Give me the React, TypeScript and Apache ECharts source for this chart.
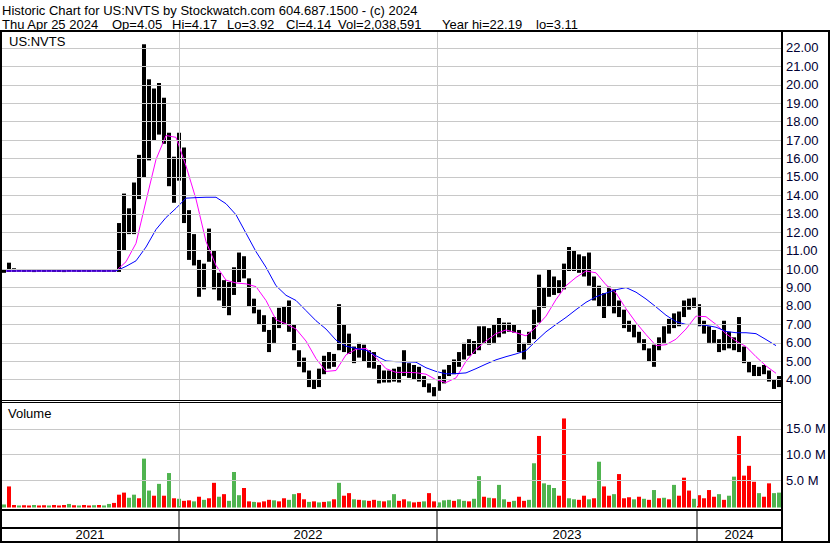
import React, { useEffect, useRef } from "react";
import * as echarts from "echarts";

// ---- data (weekly buckets, ~5 trading days each) ----
const weekHigh = [
  10.0, 10.35, 10.05, 9.98, 9.96, 9.97, 9.95, 9.97, 9.96, 9.98,
  9.96, 9.97, 9.95, 10.0, 9.97, 9.96, 9.97, 9.96, 9.98, 9.97,
  9.96, 9.98, 9.97, 12.5, 14.1, 13.3, 14.7, 16.2, 22.2, 20.3,
  19.8, 20.1, 19.3, 17.4, 16.1, 17.4, 16.6, 13.2, 11.9, 10.5,
  10.3, 12.2, 11.0, 9.8, 9.4, 9.3, 10.1, 10.9, 10.7, 9.5,
  8.4, 7.8, 7.5, 6.7, 7.4, 7.9, 8.0, 8.3, 7.0, 5.6,
  5.2, 4.5, 4.0, 4.6, 5.3, 5.5, 5.4, 8.1, 7.0, 6.5,
  5.8, 6.0, 5.9, 5.6, 5.5, 4.8, 4.5, 4.5, 4.6, 4.7,
  5.6, 4.9, 4.8, 4.7, 4.2, 3.8, 3.6, 4.2, 4.55, 4.8,
  5.1, 5.5, 6.0, 6.2, 6.1, 6.9, 6.9, 6.8, 7.0, 7.35,
  7.1, 7.1, 7.0, 6.7, 6.0, 6.6, 7.8, 9.7, 9.0, 10.0,
  9.6, 9.4, 10.3, 11.2, 11.0, 10.8, 10.7, 10.9, 9.6, 9.1,
  8.7, 9.05, 8.9, 8.3, 7.8, 7.2, 7.0, 6.6, 6.2, 5.7,
  5.9, 6.3, 6.9, 7.3, 7.6, 7.7, 8.3, 8.4, 8.45, 8.1,
  7.2, 6.9, 6.7, 6.2, 7.2, 6.6, 6.3, 7.4, 5.8, 5.0,
  4.8, 4.7, 4.8, 4.5, 4.0, 4.2,
];
const weekLow = [
  9.8, 9.85, 9.85, 9.86, 9.85, 9.86, 9.84, 9.86, 9.85, 9.86,
  9.85, 9.85, 9.84, 9.86, 9.86, 9.85, 9.86, 9.85, 9.86, 9.86,
  9.85, 9.86, 9.85, 9.85, 11.0, 11.9, 11.9, 13.8, 15.0, 15.9,
  17.0, 17.3, 16.8, 14.5, 13.6, 14.8, 12.5, 10.5, 10.2, 8.5,
  8.9, 10.4, 8.9, 8.3, 7.9, 7.5, 8.6, 9.3, 9.5, 8.0,
  7.6, 7.0, 6.6, 5.5, 6.0, 6.8, 7.0, 6.6, 5.6, 4.7,
  4.4, 3.6, 3.5, 3.6, 4.3, 4.6, 4.7, 5.6, 5.5, 5.4,
  4.9, 5.2, 5.0, 4.65, 4.6, 3.8, 3.85, 3.85, 3.9, 3.85,
  4.2, 4.1, 4.0, 3.9, 3.6, 3.3, 3.1, 3.4, 3.8, 4.2,
  4.3, 4.7, 5.1, 5.3, 5.4, 5.6, 6.0, 5.9, 6.0, 6.3,
  6.5, 6.6, 6.55, 5.5, 5.1, 5.9, 6.2, 7.1, 7.9, 8.5,
  8.6, 8.7, 8.9, 9.9, 9.9, 9.8, 9.6, 9.1, 8.3, 8.0,
  7.35, 8.0, 7.6, 7.4, 6.8, 6.6, 6.3, 6.0, 5.6, 5.0,
  4.7, 5.6, 6.0, 6.5, 6.8, 6.9, 7.4, 7.8, 7.9, 6.9,
  6.5, 6.0, 6.0, 5.5, 5.6, 5.7, 5.6, 5.5, 4.9, 4.4,
  4.2, 4.2, 4.3, 3.9, 3.5, 3.6,
];
// volume in millions, one bar per week bucket
const volumeM = [
  0.3, 3.8, 0.2, 0.1, 0.15, 0.1, 0.2, 0.1, 0.15, 0.1,
  0.2, 0.1, 0.2, 0.4, 0.15, 0.1, 0.2, 0.1, 0.15, 0.2,
  0.1, 0.4, 0.6, 2.2, 2.6, 1.6, 2.2, 1.5, 9.2, 3.0,
  2.0, 4.3, 2.0, 6.4, 1.5, 1.4, 1.0, 1.1, 0.9, 1.8,
  1.2, 1.5, 4.5, 1.8, 2.3, 1.0, 6.6, 2.1, 3.5, 0.9,
  0.8, 0.7, 0.9, 1.2, 1.1, 0.9, 1.5, 1.2, 2.3, 2.5,
  1.3, 0.8, 0.9, 0.7, 0.8, 0.9, 1.3, 4.5, 2.0, 2.5,
  1.3, 1.2, 1.1, 1.0, 1.2, 1.0, 0.9, 1.1, 2.3, 1.0,
  1.3, 0.9, 0.7, 0.8, 0.9, 2.5, 0.9, 0.7, 1.1, 1.2,
  1.0, 1.3, 1.0, 0.9, 1.4, 5.8, 1.8, 1.6, 1.5, 4.1,
  1.3, 0.8, 1.0, 1.8, 1.0, 1.2, 8.3, 13.6, 4.4, 4.1,
  3.5, 2.0, 17.0, 1.5, 1.3, 1.2, 2.0, 1.3, 1.5, 8.6,
  3.8, 2.0, 2.3, 6.2, 1.5, 1.7, 1.3, 1.8, 1.4, 1.2,
  3.1, 1.5, 1.6, 1.3, 4.1, 2.0, 5.5, 3.0, 1.4, 2.1,
  1.5, 3.1, 1.8, 2.3, 1.2, 2.0, 5.7, 13.6, 5.9, 7.8,
  4.7, 2.5, 1.8, 4.4, 2.5, 2.6,
];
// u = up day (green), d = down day (red)
const volumeDirection = (
  "uddudduddu" + "dddududdud" + "uuddduuduu" + "dudududdud" + "udduduuudd" +
  "udddudduud" + "dududududd" + "ududduduud" + "duddudduuu" + "duuduududu" +
  "ududduuduu" + "udduuddudu" + "ddudddudud" + "udududddud" + "ddduduuddd" +
  "dudduu"
).split("");
// moving averages, sampled every 2 week buckets
const maShort = [
  9.9, 9.9, 9.9, 9.9, 9.9, 9.9, 9.9, 9.9, 9.9, 9.9, 9.9, 9.9,
  10.4, 11.4, 13.7, 15.95, 17.25, 17.15, 15.6, 13.8, 11.5, 10.2,
  9.4, 9.25, 9.2, 9.05, 8.3, 7.25, 7.03, 6.75, 6.1, 5.15,
  4.45, 4.5, 5.35, 5.65, 5.7, 5.2, 4.6, 4.4, 4.4, 4.38,
  4.3, 4.0, 3.85, 4.1, 5.0, 5.65, 6.1, 6.5, 6.7, 6.55,
  6.38, 6.85, 7.45, 8.35, 9.1, 9.55, 9.9, 9.8, 9.15, 8.7,
  7.85, 7.1, 6.45, 5.85, 5.9, 6.2, 6.75, 7.45, 7.42, 7.0,
  6.5, 6.1, 5.8, 5.25, 4.75, 4.35,
];
const maLong = [
  9.9, 9.9, 9.9, 9.9, 9.9, 9.9, 9.9, 9.9, 9.9, 9.9, 9.9, 9.9,
  10.15, 10.45, 11.2, 12.15, 12.8, 13.3, 13.85, 13.88, 13.9, 13.9,
  13.55, 12.95, 11.95, 10.95, 10.1, 9.1, 8.58, 8.3, 7.75, 7.2,
  6.75, 6.15, 5.82, 5.7, 5.6, 5.3, 5.02, 4.98, 4.97, 4.95,
  4.65, 4.45, 4.32, 4.33, 4.37, 4.6, 4.85, 5.08, 5.25, 5.4,
  5.58, 6.1, 6.6, 7.0, 7.38, 7.8, 8.2, 8.5, 8.7, 8.88,
  9.0, 8.75, 8.38, 7.95, 7.5, 7.15, 7.0, 7.0, 6.95, 6.85,
  6.62, 6.55, 6.55, 6.5, 6.18, 5.85,
];
const priceTicks = [4, 5, 6, 7, 8, 9, 10, 11, 12, 13, 14, 15, 16, 17, 18, 19, 20, 21, 22];
const volumeTicks = [5, 10, 15];
const yearLabels = ["2021", "2022", "2023", "2024"];
const yearStarts = [0, 35.6, 87.2, 139.2]; // in week-bucket units
const yearEnds = [35.6, 87.2, 139.2, 156];
const headerTitle = "Historic Chart for US:NVTS by Stockwatch.com 604.687.1500 - (c) 2024";
const quoteParts = ["Thu Apr 25 2024", "Op=4.05", "Hi=4.17", "Lo=3.92", "Cl=4.14", "Vol=2,038,591", "Year hi=22.19", "lo=3.11"];
const symbolName = "US:NVTS";

const FONT_FAMILY = '"Liberation Sans", Arial, sans-serif';
const FONT = '13px "Liberation Sans", Arial, sans-serif';
const GRID_GRAY = "#c8c8c8";
const LABEL_COLOR = "#000033";
const quoteX = [2, 112, 172, 227, 286, 338, 442, 536];

export default function App() {
  const ref = useRef<HTMLDivElement>(null);
  useEffect(() => {
    if (!ref.current) return;
    const chart = echarts.init(ref.current, undefined, { renderer: "svg" });
    const nWeeks = weekHigh.length;
    const yearBoundaries = yearStarts.slice(1);

    const rect = (x: number, y: number, w: number, h: number) => ({
      type: "rect",
      silent: true,
      z: 100,
      shape: { x, y, width: w, height: h },
      style: { fill: "#000" },
    });
    const txt = (text: string, x: number, y: number) => ({
      type: "text",
      silent: true,
      z: 100,
      x,
      y,
      style: { text, font: FONT, fill: "#000", verticalAlign: "middle", textVerticalAlign: "middle" },
    });

    const option: any = {
      animation: false,
      backgroundColor: "#ffffff",
      grid: [
        { left: 1, top: 31, width: 780, height: 369 },
        { left: 1, top: 403, width: 780, height: 103 },
        { left: 1, top: 510, width: 780, height: 31 },
      ],
      xAxis: [0, 1, 2].map((g) => ({ type: "value", gridIndex: g, min: 0, max: nWeeks, show: false })),
      yAxis: [
        { type: "value", gridIndex: 0, min: 2.9, max: 22.92, show: false },
        {
          type: "value",
          gridIndex: 1,
          min: 0,
          max: 20,
          interval: 5,
          position: "right",
          axisLine: { show: false },
          axisTick: { show: false },
          splitLine: { show: false },
          axisLabel: {
            show: true,
            margin: 5,
            color: LABEL_COLOR,
            fontSize: 13,
            fontFamily: FONT_FAMILY,
            formatter: (v: number) => (volumeTicks.indexOf(v) >= 0 ? v.toFixed(1) + " M" : ""),
          },
        },
        { type: "value", gridIndex: 2, min: 0, max: 1, show: false },
      ],
      series: [
        {
          type: "line",
          xAxisIndex: 0,
          yAxisIndex: 0,
          data: [],
          z: 1,
          silent: true,
          markLine: {
            silent: true,
            symbol: ["none", "none"],
            animation: false,
            lineStyle: { color: GRID_GRAY, width: 1, type: "solid" },
            label: { show: false },
            emphasis: { disabled: true },
            data: [
              ...priceTicks.map((v) => ({
                yAxis: v,
                label: {
                  show: true,
                  position: "end",
                  distance: 5,
                  formatter: v.toFixed(2),
                  color: LABEL_COLOR,
                  fontSize: 13,
                  fontFamily: FONT_FAMILY,
                },
              })),
              ...yearBoundaries.map((x) => ({ xAxis: x })),
            ],
          },
        },
        {
          type: "custom",
          xAxisIndex: 0,
          yAxisIndex: 0,
          z: 2,
          silent: true,
          clip: true,
          data: weekHigh.map((h, i) => [i + 0.5, weekLow[i], h]),
          renderItem: (_p: any, api: any) => {
            const x = api.value(0);
            const lo = api.coord([x, api.value(1)]);
            const hi = api.coord([x, api.value(2)]);
            return {
              type: "rect",
              shape: { x: Math.round(lo[0] - 2), y: hi[1], width: 4, height: Math.max(1.5, lo[1] - hi[1]) },
              style: { fill: "#000" },
            };
          },
        },
        {
          type: "line",
          xAxisIndex: 0,
          yAxisIndex: 0,
          z: 3,
          silent: true,
          showSymbol: false,
          symbol: "none",
          data: maShort.map((v, k) => [2 * k + 1, v]),
          lineStyle: { color: "#ff00ff", width: 1 },
        },
        {
          type: "line",
          xAxisIndex: 0,
          yAxisIndex: 0,
          z: 3,
          silent: true,
          showSymbol: false,
          symbol: "none",
          data: maLong.map((v, k) => [2 * k + 1, v]),
          lineStyle: { color: "#0000ff", width: 1 },
        },
        {
          type: "line",
          xAxisIndex: 1,
          yAxisIndex: 1,
          data: [],
          z: 1,
          silent: true,
          markLine: {
            silent: true,
            symbol: ["none", "none"],
            animation: false,
            lineStyle: { color: GRID_GRAY, width: 1, type: "solid" },
            label: { show: false },
            emphasis: { disabled: true },
            data: [...volumeTicks.map((v) => ({ yAxis: v })), ...yearBoundaries.map((x) => ({ xAxis: x }))],
          },
        },
        {
          type: "custom",
          xAxisIndex: 1,
          yAxisIndex: 1,
          z: 2,
          silent: true,
          data: volumeM.map((v, i) => [i + 0.5, v, volumeDirection[i] === "u" ? 1 : 0]),
          renderItem: (_p: any, api: any) => {
            const x = api.value(0);
            const top = api.coord([x, api.value(1)]);
            const base = api.coord([x, 0]);
            return {
              type: "rect",
              shape: { x: Math.round(top[0] - 2), y: top[1], width: 4, height: Math.max(1, base[1] - top[1] + 1.5) },
              style: { fill: api.value(2) === 1 ? "#50b450" : "#ff0000" },
            };
          },
        },
        {
          type: "custom",
          xAxisIndex: 2,
          yAxisIndex: 2,
          z: 2,
          silent: true,
          data: yearLabels.map((_l, i) => [yearStarts[i], yearEnds[i], i]),
          renderItem: (_p: any, api: any) => {
            const s = api.value(0);
            const e = api.value(1);
            const idx = api.value(2);
            const p0 = api.coord([s, 1]);
            const p1 = api.coord([e, 0]);
            const children: any[] = [
              {
                type: "text",
                style: {
                  text: yearLabels[idx],
                  x: (p0[0] + p1[0]) / 2,
                  y: p1[1] - 6.5,
                  align: "center",
                  verticalAlign: "middle",
                  textAlign: "center",
                  textVerticalAlign: "middle",
                  font: FONT,
                  fill: "#000",
                },
              },
            ];
            if (s > 0) {
              children.push({
                type: "line",
                shape: { x1: p0[0], y1: p0[1], x2: p0[0], y2: p1[1] },
                style: { stroke: "#000", lineWidth: 1 },
              });
            }
            return { type: "group", children };
          },
        },
      ],
      graphic: [
        rect(0, 30, 830, 2),
        rect(0, 30, 2, 513),
        rect(781, 30, 2, 513),
        rect(828, 30, 2, 513),
        rect(0, 400, 782, 1),
        rect(0, 402, 782, 1),
        rect(0, 509, 782, 2),
        rect(0, 527, 782, 2),
        rect(0, 541, 830, 2),
        txt(headerTitle, 2, 10),
        ...quoteParts.map((q, i) => txt(q, quoteX[i], 24)),
        txt(symbolName, 9, 41),
        txt("Volume", 8, 413),
      ],
    };
    chart.setOption(option);
    return () => chart.dispose();
  }, []);
  return (
    <div
      ref={ref}
      style={{ position: "fixed", left: 0, top: 0, width: 830, height: 543, background: "#fff" }}
    />
  );
}
